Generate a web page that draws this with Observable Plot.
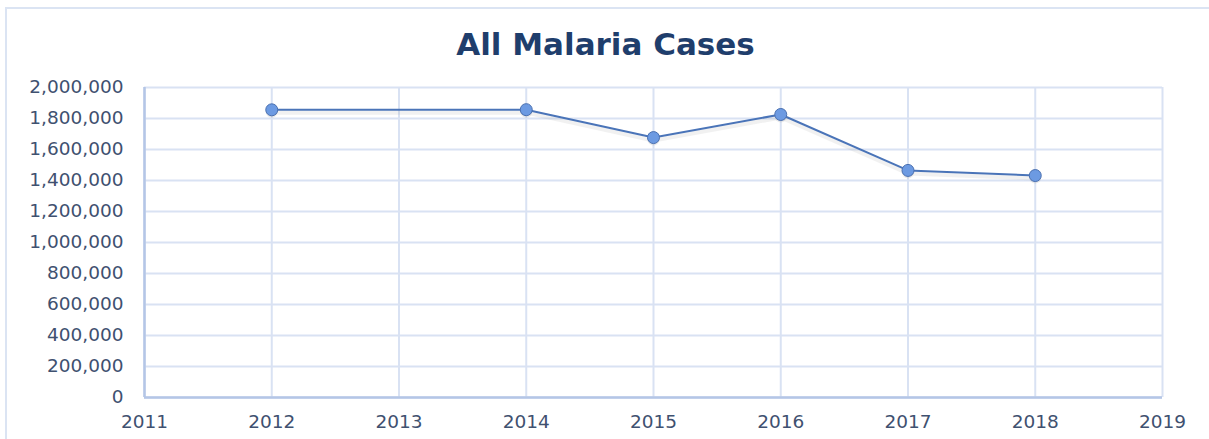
<!DOCTYPE html>
<html>
<head>
<meta charset="utf-8">
<script src="https://cdn.jsdelivr.net/npm/d3@7"></script>
<script src="https://cdn.jsdelivr.net/npm/@observablehq/plot@0.6"></script>
<style>
  html, body { margin: 0; padding: 0; background: #ffffff; overflow: hidden; }
  #wrap { position: relative; width: 1209px; height: 439px; }
  #border {
    position: absolute; left: 5px; top: 7px; width: 1220px; height: 450px;
    border: 2px solid #dbe4f3; box-sizing: border-box; pointer-events: none;
  }
  #chart { position: absolute; left: 0; top: 0; }
</style>
</head>
<body>
<div id="wrap">
  <div id="chart"></div>
  <div id="border"></div>
</div>
<script>
// Reported malaria cases by year (no figure for 2013)
const years = [2012, 2014, 2015, 2016, 2017, 2018];
const cases = [1856000, 1857000, 1677000, 1826000, 1465000, 1432000];

const xTicks = [2011, 2012, 2013, 2014, 2015, 2016, 2017, 2018, 2019];
const yTicks = [0, 200000, 400000, 600000, 800000, 1000000, 1200000, 1400000, 1600000, 1800000, 2000000];

const title = "All Malaria Cases";

const data = years.map((year, i) => ({year, cases: cases[i]}));

const gridColor = "#d9e2f3";
const axisColor = "#b4c6e6";
const labelColor = "#3f5170";
const lineColor = "#4a74b8";

const chart = Plot.plot({
  width: 1209,
  height: 439,
  marginLeft: 144,
  marginRight: 47,
  marginTop: 87,
  marginBottom: 42,
  style: {fontFamily: "DejaVu Sans", fontSize: "16px", color: labelColor, background: "transparent"},
  x: {domain: [2011, 2019], ticks: xTicks, tickFormat: d => String(d), label: null},
  y: {domain: [0, 2000000], ticks: yTicks, tickFormat: d3.format(","), label: null},
  marks: [
    Plot.gridX(xTicks, {stroke: gridColor, strokeOpacity: 1, strokeWidth: 2}),
    Plot.gridY(yTicks, {stroke: gridColor, strokeOpacity: 1, strokeWidth: 2}),
    Plot.ruleX([2011], {stroke: axisColor, strokeWidth: 2.5}),
    Plot.ruleY([0], {stroke: axisColor, strokeWidth: 2.5}),
    Plot.axisX(xTicks, {tickSize: 0, tickPadding: 17, fontSize: 18.5, fill: labelColor, tickFormat: d => String(d), label: null}),
    Plot.axisY(yTicks, {tickSize: 0, tickPadding: 21, fontSize: 18.5, fill: labelColor, tickFormat: d3.format(","), label: null}),
    // soft shadow under the series line
    Plot.line(data, {x: "year", y: "cases", stroke: "#9a9a9a", strokeOpacity: 0.14, strokeWidth: 4, dy: 3}),
    Plot.line(data, {x: "year", y: "cases", stroke: lineColor, strokeWidth: 2}),
    Plot.dot(data, {x: "year", y: "cases", dy: 2, r: 6, fill: "#9a9a9a", fillOpacity: 0.2}),
    Plot.dot(data, {x: "year", y: "cases", r: 6, fill: "#6c9ae2", stroke: "#4a70b0", strokeWidth: 1}),
    Plot.text([title], {
      frameAnchor: "top", lineAnchor: "middle", dx: -48, dy: -42, text: d => d,
      fontSize: 31, fontWeight: "bold", fill: "#1f3e6c", fontFamily: "DejaVu Sans"
    })
  ]
});

document.getElementById("chart").appendChild(chart);
</script>
</body>
</html>
